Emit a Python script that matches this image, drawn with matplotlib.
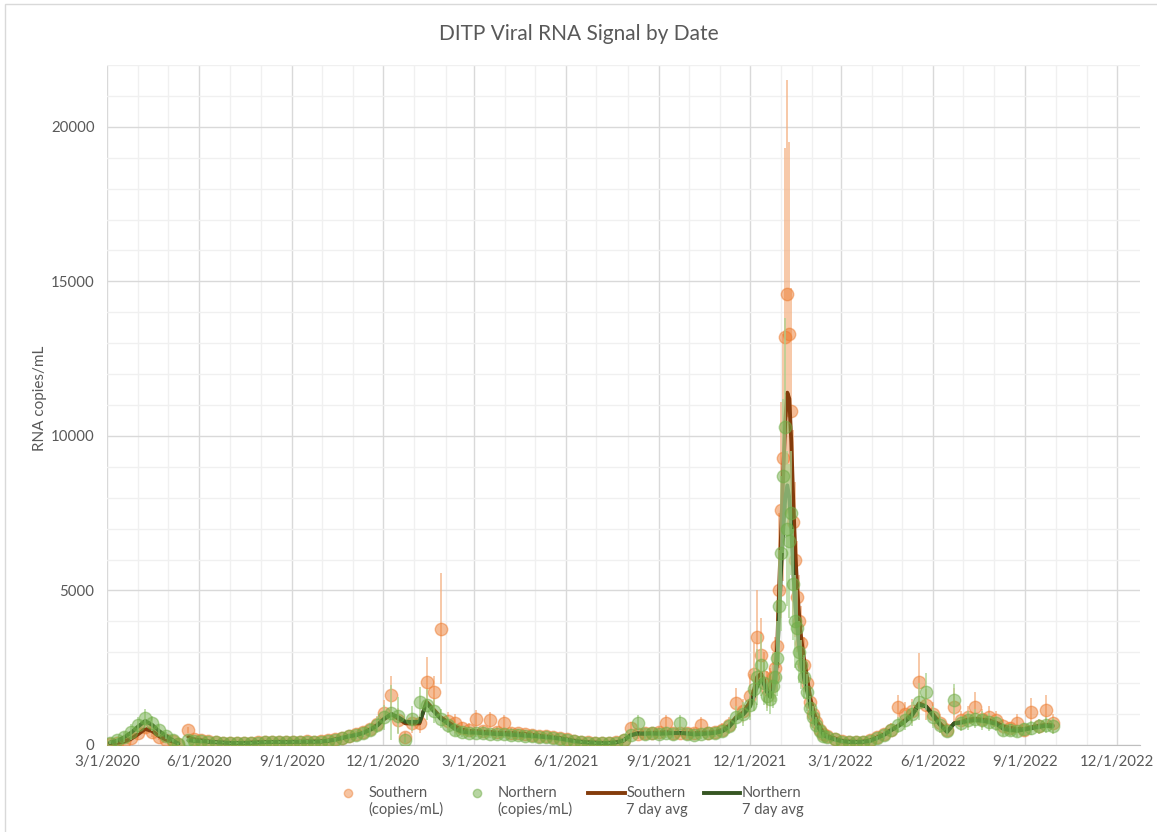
import numpy as np
import pandas as pd
import matplotlib
matplotlib.use('Agg')
import matplotlib.pyplot as plt
import matplotlib.dates as mdates
import matplotlib.ticker as mticker
from matplotlib.patches import Rectangle
from matplotlib.legend_handler import HandlerLine2D

plt.rcParams['font.family'] = ['Lato', 'DejaVu Sans']

# sample dates (weekly, denser around the Jan 2022 peak)
dates = [
    '2020-03-04', '2020-03-11', '2020-03-18', '2020-03-25',
    '2020-04-01', '2020-04-08', '2020-04-15', '2020-04-22', '2020-04-29',
    '2020-05-06', '2020-05-11', '2020-05-21', '2020-05-27',
    '2020-06-03', '2020-06-10', '2020-06-17', '2020-06-24',
    '2020-07-01', '2020-07-08', '2020-07-15', '2020-07-22', '2020-07-29',
    '2020-08-05', '2020-08-12', '2020-08-19', '2020-08-26',
    '2020-09-02', '2020-09-09', '2020-09-16', '2020-09-23', '2020-09-30',
    '2020-10-07', '2020-10-14', '2020-10-21', '2020-10-28',
    '2020-11-04', '2020-11-11', '2020-11-18', '2020-11-25',
    '2020-12-02', '2020-12-09', '2020-12-16', '2020-12-23', '2020-12-30',
    '2021-01-06', '2021-01-13', '2021-01-20', '2021-01-27',
    '2021-02-03', '2021-02-10', '2021-02-17', '2021-02-24',
    '2021-03-03', '2021-03-10', '2021-03-17', '2021-03-24', '2021-03-31',
    '2021-04-07', '2021-04-14', '2021-04-21', '2021-04-28',
    '2021-05-05', '2021-05-12', '2021-05-19', '2021-05-26',
    '2021-06-02', '2021-06-09', '2021-06-16', '2021-06-23', '2021-06-30',
    '2021-07-07', '2021-07-14', '2021-07-21', '2021-07-28',
    '2021-08-04', '2021-08-11', '2021-08-18', '2021-08-25',
    '2021-09-01', '2021-09-08', '2021-09-15', '2021-09-22', '2021-09-29',
    '2021-10-06', '2021-10-13', '2021-10-20', '2021-10-27',
    '2021-11-03', '2021-11-10', '2021-11-17', '2021-11-24',
    '2021-12-01', '2021-12-05', '2021-12-08', '2021-12-12', '2021-12-15', '2021-12-18',
    '2021-12-21', '2021-12-24', '2021-12-26', '2021-12-28', '2021-12-30',
    '2022-01-01', '2022-01-03', '2022-01-05', '2022-01-07', '2022-01-09', '2022-01-11', '2022-01-13',
    '2022-01-15', '2022-01-17', '2022-01-19', '2022-01-21', '2022-01-24', '2022-01-27', '2022-01-30',
    '2022-02-02', '2022-02-05', '2022-02-09', '2022-02-12', '2022-02-16', '2022-02-23',
    '2022-03-02', '2022-03-09', '2022-03-16', '2022-03-23', '2022-03-30',
    '2022-04-06', '2022-04-13', '2022-04-20', '2022-04-27',
    '2022-05-04', '2022-05-11', '2022-05-18', '2022-05-25',
    '2022-06-01', '2022-06-08', '2022-06-15', '2022-06-22', '2022-06-29',
    '2022-07-06', '2022-07-13', '2022-07-20', '2022-07-27',
    '2022-08-03', '2022-08-10', '2022-08-17', '2022-08-24', '2022-08-31',
    '2022-09-07', '2022-09-14', '2022-09-21', '2022-09-28',
]

south = [
    40, 60, 100, 220,
    380, 580, 420, 260, 160,
    120, 40, 490, 200,
    150, 120, 90, 80,
    70, 60, 70, 80, 90,
    100, 90, 110, 100,
    110, 100, 120, 110, 120,
    150, 190, 230, 300,
    340, 420, 520, 680,
    1040, 1620, 800, 260, 700,
    700, 2040, 1720, 3760,
    780, 700, 550, 500,
    840, 450, 810, 420, 710,
    400, 380, 350, 330,
    300, 280, 250, 220,
    180, 140, 110, 90, 80,
    70, 70, 90, 150,
    550, 350, 380, 400,
    420, 710, 380, 400, 380,
    400, 650, 400, 420,
    500, 650, 1360, 1100,
    1600, 2300, 3500, 2900, 2200, 1800,
    1900, 2200, 2500, 3200, 5000,
    7600, 9300, 13200, 14600, 13300, 10800, 7200,
    6000, 4800, 4000, 3300, 2600, 2000, 1400,
    1000, 750, 500, 350, 280, 200,
    130, 110, 100, 110, 150,
    250, 350, 500, 1230,
    1000, 1100, 2040, 1300,
    1000, 700, 500, 1230, 800,
    900, 1230, 850, 900,
    800, 600, 550, 700, 500,
    1070, 600, 1130, 700,
]

north = [
    80, 150, 260, 420,
    650, 860, 700, 480, 300,
    150, 30, 160, 140,
    120, 110, 90, 80,
    60, 70, 60, 70, 80,
    90, 100, 100, 90,
    100, 110, 110, 100, 110,
    140, 170, 230, 280,
    320, 400, 500, 640,
    900, 1050, 950, 160, 850,
    1390, 1300, 1100, 850,
    650, 500, 420, 400,
    400, 380, 370, 350, 350,
    330, 320, 300, 290,
    270, 250, 230, 200,
    160, 120, 100, 80, 70,
    60, 70, 80, 160,
    330, 710, 350, 380,
    350, 380, 350, 710, 350,
    330, 350, 380, 400,
    450, 600, 900, 1000,
    1300, 1800, 2200, 2600, 2000, 1600,
    1500, 1900, 2200, 2800, 4500,
    6200, 8700, 10300, 7000, 6600, 7500, 5200,
    4000, 3800, 3000, 2600, 2200, 1700, 1200,
    900, 650, 450, 300, 250, 180,
    110, 100, 90, 100, 130,
    220, 330, 480, 650,
    800, 1000, 1400, 1720,
    900, 650, 450, 1460, 700,
    800, 850, 800, 750,
    700, 500, 480, 450, 520,
    550, 600, 650, 620,
]

south_avg = [
    50, 70, 110, 200,
    350, 520, 450, 280, 170,
    110, 50, 250, 180,
    150, 115, 95, 80,
    70, 65, 70, 80, 90,
    95, 95, 105, 100,
    105, 105, 115, 115, 120,
    140, 180, 230, 290,
    330, 400, 510, 650,
    850, 1000, 850, 700, 700,
    700, 1400, 1150, 900,
    750, 600, 500, 450,
    450, 430, 420, 400, 400,
    390, 370, 350, 330,
    300, 280, 250, 220,
    180, 140, 110, 90, 80,
    70, 70, 90, 140,
    320, 360, 380, 390,
    400, 420, 390, 380, 380,
    380, 400, 400, 420,
    480, 620, 900, 1050,
    1400, 1800, 2200, 2300, 2100, 1800,
    1700, 2000, 2400, 3200, 5200,
    7000, 8800, 10500, 11400, 11200, 9800, 7800,
    6200, 5000, 4100, 3400, 2700, 2100, 1500,
    1100, 800, 550, 380, 290, 210,
    140, 115, 105, 110, 145,
    240, 340, 480, 620,
    800, 1000, 1350, 1250,
    1000, 700, 450, 700, 750,
    820, 850, 820, 800,
    720, 600, 550, 520, 520,
    580, 620, 650, 640,
]

north_avg = [
    80, 140, 250, 400,
    600, 780, 650, 450, 290,
    140, 40, 150, 130,
    120, 105, 90, 80,
    65, 65, 65, 70, 80,
    90, 95, 100, 90,
    100, 105, 105, 105, 110,
    135, 170, 225, 280,
    320, 390, 490, 630,
    850, 1000, 900, 750, 750,
    750, 1350, 1100, 850,
    700, 520, 430, 400,
    400, 380, 370, 350, 350,
    330, 320, 300, 290,
    270, 250, 230, 200,
    160, 120, 100, 80, 70,
    60, 70, 85, 150,
    310, 380, 360, 370,
    360, 370, 380, 400, 370,
    340, 350, 370, 390,
    440, 580, 850, 980,
    1250, 1600, 1900, 2100, 1950, 1700,
    1550, 1800, 2100, 2800, 4300,
    5800, 7000, 8000, 8400, 8000, 7000, 5600,
    4500, 3800, 3100, 2600, 2100, 1700, 1250,
    900, 650, 460, 320, 250, 180,
    120, 100, 95, 100, 125,
    220, 320, 470, 600,
    750, 950, 1300, 1250,
    950, 650, 420, 700, 720,
    780, 800, 780, 740,
    680, 520, 480, 460, 500,
    540, 580, 620, 600,
]

south_err = [
    30, 40, 60, 120,
    150, 200, 150, 100, 60,
    50, 20, 100, 60,
    50, 40, 30, 30,
    25, 20, 25, 30, 30,
    30, 30, 40, 30,
    40, 30, 40, 40, 40,
    50, 60, 80, 100,
    120, 150, 200, 250,
    400, 600, 400, 150, 300,
    300, 800, 500, 1800,
    300, 300, 200, 200,
    300, 150, 250, 150, 250,
    150, 150, 120, 120,
    100, 100, 90, 80,
    60, 50, 40, 30, 30,
    30, 30, 30, 60,
    200, 150, 150, 150,
    150, 250, 150, 150, 150,
    150, 250, 150, 150,
    200, 250, 500, 400,
    700, 1000, 1500, 1200, 800, 600,
    600, 800, 1000, 1500, 2500,
    3500, 4000, 6100, 6900, 6200, 4000, 3000,
    2500, 1800, 1500, 1200, 900, 700, 500,
    400, 300, 200, 150, 100, 80,
    50, 40, 40, 40, 60,
    100, 150, 200, 400,
    400, 400, 950, 500,
    400, 300, 200, 600, 300,
    350, 500, 300, 350,
    300, 250, 200, 300, 200,
    450, 250, 500, 300,
]

north_err = [
    50, 80, 150, 250,
    250, 300, 250, 180, 120,
    60, 20, 60, 50,
    40, 40, 30, 30,
    20, 25, 20, 25, 30,
    30, 30, 30, 30,
    30, 40, 40, 30, 40,
    50, 60, 80, 100,
    120, 150, 200, 250,
    400, 900, 600, 100, 400,
    500, 500, 400, 300,
    250, 200, 150, 150,
    150, 150, 150, 120, 120,
    120, 120, 100, 100,
    90, 90, 80, 70,
    60, 40, 40, 30, 30,
    20, 30, 30, 60,
    150, 250, 150, 150,
    150, 150, 150, 250, 150,
    120, 150, 150, 150,
    180, 250, 350, 400,
    500, 700, 900, 1000, 700, 500,
    500, 700, 800, 1200, 1800,
    2500, 2500, 3500, 2500, 2500, 2000, 1800,
    1500, 1200, 1000, 800, 700, 600, 400,
    350, 250, 180, 120, 100, 70,
    40, 40, 30, 40, 50,
    80, 120, 180, 250,
    300, 400, 600, 600,
    350, 250, 150, 500, 250,
    300, 300, 300, 300,
    250, 200, 200, 180, 200,
    220, 250, 250, 250,
]

tick_dates = ['2020-03-01', '2020-06-01', '2020-09-01', '2020-12-01',
              '2021-03-01', '2021-06-01', '2021-09-01', '2021-12-01',
              '2022-03-01', '2022-06-01', '2022-09-01', '2022-12-01']

df = pd.DataFrame({'date': pd.to_datetime(dates), 'south': south, 'north': north,
                   'south_avg': south_avg, 'north_avg': north_avg,
                   'south_err': south_err, 'north_err': north_err})

grey = '#595959'
fig = plt.figure(figsize=(11.57, 8.32), dpi=100)
ax = fig.add_axes([107 / 1157, 1 - 745 / 832, 1033 / 1157, 680 / 832])

# chart border
fig.patches.append(Rectangle((5 / 1157, -0.01), 1.1, 1 - 4 / 832 + 0.01,
                             transform=fig.transFigure, fill=False,
                             edgecolor='#D9D9D9', lw=1))

# averages sit above the southern markers, below the northern ones
seg = (df['date'].diff() > pd.Timedelta(days=8)).cumsum()
for col, lcol in [('south_avg', '#843C0C'), ('north_avg', '#375623')]:
    for _, g in df.groupby(seg):
        ax.plot(g['date'], g[col], color=lcol, lw=2.8, zorder=3.5,
                solid_capstyle='round')

for col, mcol, ecol, z in [('south', '#ED7D31', '#F4B183', 2),
                           ('north', '#70AD47', '#A9D18E', 4)]:
    v = df[col].values
    e = df[col + '_err'].values
    ax.errorbar(df['date'], v, yerr=[np.minimum(e, v), e], fmt='none',
                ecolor=ecol, elinewidth=1.1, alpha=0.9, zorder=z)
    ax.scatter(df['date'], v, s=80, color=mcol, alpha=0.5,
               edgecolors=mcol, linewidths=1, zorder=z + 1)

ax.set_xlim(pd.Timestamp('2020-03-01'), pd.Timestamp('2022-12-24'))
ax.set_ylim(0, 22000)
ax.set_xticks(pd.to_datetime(tick_dates))
ax.xaxis.set_major_formatter(mticker.FuncFormatter(
    lambda x, p: (lambda d: f'{d.month}/{d.day}/{d.year}')(mdates.num2date(x))))
ax.xaxis.set_minor_locator(mdates.MonthLocator())
ax.yaxis.set_major_locator(mticker.MultipleLocator(5000))
ax.yaxis.set_minor_locator(mticker.MultipleLocator(1000))
ax.grid(which='major', color='#D9D9D9', lw=1, zorder=0)
ax.grid(which='minor', color='#F0F0F0', lw=1, zorder=0)
ax.set_axisbelow(True)
for s in ['top', 'right', 'left']:
    ax.spines[s].set_visible(False)
ax.spines['bottom'].set_color('#BFBFBF')
ax.tick_params(which='both', length=0, labelsize=10.8, labelcolor=grey)
ax.tick_params(axis='y', pad=9)
ax.tick_params(axis='x', pad=7)

fig.text(0.5, 1 - 34 / 832, 'DITP Viral RNA Signal by Date', ha='center',
         va='center', fontsize=15, color=grey)
fig.text(40 / 1157, 1 - 398 / 832, 'RNA copies/mL', rotation=90, ha='center',
         va='center', fontsize=11, color=grey)


class TopRowHandler(HandlerLine2D):
    # put the legend symbol level with the first line of a two-line label
    def create_artists(self, legend, orig_handle, xdescent, ydescent,
                       width, height, fontsize, trans):
        arts = super().create_artists(legend, orig_handle, xdescent, ydescent,
                                      width, height, fontsize, trans)
        for a in arts:
            a.set_ydata(np.asarray(a.get_ydata(), float) + 0.62 * fontsize)
        return arts


handles = [
    plt.Line2D([], [], ls='none', marker='o', ms=6, color='#ED7D31', alpha=0.45),
    plt.Line2D([], [], ls='none', marker='o', ms=6, color='#70AD47', alpha=0.5),
    plt.Line2D([], [], color='#843C0C', lw=2.8),
    plt.Line2D([], [], color='#375623', lw=2.8),
]
labels = ['Southern\n(copies/mL)', 'Northern\n(copies/mL)',
          'Southern\n7 day avg', 'Northern\n7 day avg']
leg = fig.legend(handles, labels, loc='lower center', ncol=4, frameon=False,
                 bbox_to_anchor=(0.49, 0.002), fontsize=10.5, handlelength=2.5,
                 columnspacing=1.1, handletextpad=0.1, labelcolor=grey,
                 handler_map={plt.Line2D: TopRowHandler()})

fig.savefig('out.png', dpi=100)
